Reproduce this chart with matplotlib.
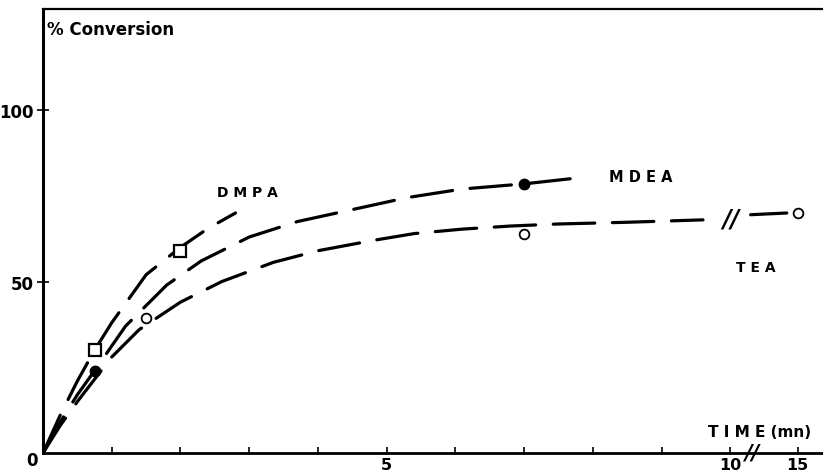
import numpy as np
import matplotlib
matplotlib.use("Agg")
import matplotlib.pyplot as plt

# measured points (time in mn, % conversion)
dmpa_t = [0.75, 2.0]
dmpa_y = [30, 59]
mdea_t = [0.75, 7.0]
mdea_y = [24, 78.5]
tea_t = [1.5, 7.0, 15.0]
tea_y = [39.5, 64, 70]

# hand drawn curves
dmpa_curve_t = [0, 0.25, 0.5, 0.75, 1.0, 1.5, 2.0, 2.4, 2.8]
dmpa_curve_y = [0, 11, 21, 30, 38, 52, 60, 65.5, 70]
mdea_curve_t = [0, 0.25, 0.5, 0.75, 1.2, 1.8, 2.3, 3.0, 3.7, 4.5, 5.3, 6.1, 7.0, 7.9]
mdea_curve_y = [0, 9, 17, 24, 37, 49, 56, 63, 67.5, 71, 74.5, 77, 78.5, 80.5]
tea_curve_t = [0, 0.25, 0.5, 1.0, 1.4, 2.0, 2.6, 3.35, 4.0, 4.8, 5.4, 6.1, 6.8, 7.5, 8.5, 9.6]
tea_curve_y = [0, 8, 15, 28, 36, 44, 50, 55.6, 59, 62, 64, 65.3, 66.2, 66.8, 67.3, 68]
tea_tail_t = [11.5, 14.2]
tea_tail_y = [69.5, 70]

xticks = [1, 2, 3, 4, 5, 6, 7, 8, 9, 10, 15]
xlabels = ["", "", "", "", "5", "", "", "", "", "10", "15"]
yticks = [50, 100]
ylabels = ["50", "100"]

SQ = 0.195  # compression of the axis after the break (10 -> 15)


def fwd(t):
    t = np.asarray(t, dtype=float)
    return np.where(t <= 10, t, 10 + (t - 10) * SQ)


def inv(x):
    x = np.asarray(x, dtype=float)
    return np.where(x <= 10, x, 10 + (x - 10) / SQ)


plt.rcParams['font.family'] = ['DejaVu Sans']
plt.rcParams['font.weight'] = 'bold'

fig = plt.figure(figsize=(8.23, 4.77), dpi=100)
ax = fig.add_axes([43 / 823, 23 / 477, 1 - 43 / 823, (454 - 10) / 477])
ax.set_xscale('function', functions=(fwd, inv))
ax.set_xlim(0, 16.9)
ax.set_ylim(0, 129.5)

lw = 2.3
dash = (13, 5.5)
for ct, cy in [(dmpa_curve_t, dmpa_curve_y), (mdea_curve_t, mdea_curve_y),
               (tea_curve_t, tea_curve_y), (tea_tail_t, tea_tail_y)]:
    ax.plot(ct, cy, color='black', lw=lw, dashes=dash, solid_capstyle='round',
            dash_capstyle='round')

ax.plot(dmpa_t, dmpa_y, ls='none', marker='s', ms=8, mfc='white', mec='black', mew=1.6)
ax.plot(mdea_t, mdea_y, ls='none', marker='o', ms=7.5, mfc='black', mec='black')
ax.plot(tea_t, tea_y, ls='none', marker='o', ms=7, mfc='white', mec='black', mew=1.3)

ax.spines['right'].set_visible(False)
ax.spines['left'].set_linewidth(2.2)
ax.spines['bottom'].set_linewidth(2.0)
ax.spines['top'].set_linewidth(1.6)

ax.set_xticks(xticks)
ax.set_xticklabels(xlabels)
ax.xaxis.set_minor_locator(matplotlib.ticker.NullLocator())
ax.tick_params(axis='x', direction='in', length=4, width=1.2, pad=3, labelsize=11.5)
ax.set_yticks(yticks)
ax.set_yticklabels(ylabels)
ax.tick_params(axis='y', direction='inout', length=9, width=1.2, pad=2, labelsize=12)

ax.annotate("0", xy=(0, 0), xycoords='data', xytext=(-8, -5), textcoords='offset points',
            ha='center', va='center', fontsize=12)

ax.text(0.005, 0.975, "% Conversion", transform=ax.transAxes, ha='left', va='top', fontsize=12)
ax.text(2.97, 76, "D M P A", ha='center', va='center', fontsize=10)
ax.text(8.7, 80.5, "M D E A", ha='center', va='center', fontsize=10.5)
ax.text(11.9, 54.2, "T E A", ha='center', va='center', fontsize=10)
ax.text(12.2, 6.4, "T I M E (mn)", ha='center', va='center', fontsize=11)

# break marks
ax.text(11.6, 0, "//", ha='center', va='center', fontsize=15, style='italic')
ax.text(10.0, 68.5, "//", ha='center', va='center', fontsize=17, style='italic')

fig.savefig("out.png", dpi=100)
